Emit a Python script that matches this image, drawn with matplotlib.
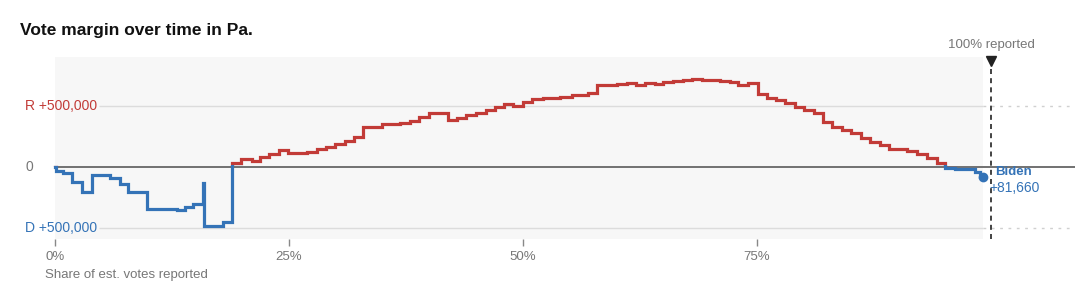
import matplotlib
matplotlib.use('Agg')
import matplotlib.pyplot as plt
from matplotlib.patches import Rectangle
import numpy as np

plt.rcParams['font.family'] = ['Liberation Sans', 'DejaVu Sans']

# share of est. votes reported (%) at which each reported margin starts
pct = [0.0, 0.1, 0.85, 1.78, 2.85, 3.92, 5.88, 6.94, 7.80, 9.86, 13.0, 13.92, 14.78,
       15.84, 15.90, 17.95, 18.96, 19.84, 21.01, 21.90, 22.90, 23.96, 24.93, 26.89,
       27.96, 28.95, 29.91, 30.98, 31.94, 32.94, 34.94, 36.86, 37.93, 38.94, 39.96,
       40.95, 42.02, 42.95, 43.96, 45.03, 46.05, 47.01, 47.97, 48.96, 50.0, 51.01,
       52.17, 53.95, 55.20, 56.98, 57.94, 60.01, 61.08, 62.07, 63.03, 64.10, 64.99,
       66.06, 67.13, 68.02, 69.09, 71.05, 72.12, 73.0, 74.07, 75.14, 76.04, 76.98,
       77.99, 79.06, 80.02, 81.09, 82.05, 83.01, 84.08, 85.04, 86.06, 87.07, 88.09,
       89.10, 91.0, 92.06, 93.11, 94.23, 95.09, 96.15, 98.29, 98.8]
# margin (positive = Trump/R lead, negative = Biden/D lead)
margin = [0, -30000, -52000, -120000, -202000, -66000, -93000, -139000, -207000,
          -347000, -352000, -330000, -306000, -134000, -480000, -448000, 33000, 63000,
          49000, 80000, 107000, 139000, 117000, 125000, 145000, 166000, 189000, 216000,
          243000, 330000, 352000, 361000, 380000, 412000, 445000, 440000, 383000,
          399000, 426000, 445000, 467000, 494000, 516000, 500000, 533000, 557000,
          568000, 576000, 590000, 604000, 672000, 680000, 686000, 672000, 691000,
          680000, 694000, 705000, 713000, 721000, 713000, 707000, 699000, 672000,
          686000, 598000, 563000, 549000, 522000, 494000, 467000, 440000, 371000,
          330000, 303000, 276000, 235000, 207000, 180000, 145000, 134000, 107000,
          71000, 30000, -6000, -20000, -39000, -81660]
last_pct = 99.15

xticks = [0, 25, 50, 75]
xticklabels = ['0%', '25%', '50%', '75%']
gridvals = [500000, -500000]
gridlabels = ['R +500,000', 'D +500,000']

red = '#c23b37'
blue = '#3473b7'
grey_txt = '#777777'

fig = plt.figure(figsize=(10.8, 3.0), dpi=100)
ax = fig.add_axes([55/1080, 61/300, 1020/1080, 182/300])
ax.set_xlim(0, 108.97)
ax.set_ylim(-590000, 902000)
ax.set_facecolor('none')
for s in ax.spines.values():
    s.set_visible(False)

ax.axvspan(0, last_pct, color='#f7f7f7', zorder=0, lw=0)

# gridlines
for v, lab, c in zip(gridvals, gridlabels, [red, blue]):
    ax.hlines(v, 4.7, last_pct, color='#dcdcdc', lw=1, zorder=1)
    ax.hlines(v, last_pct, 108.97, color='#d0d0d0', lw=1, linestyles=(0, (2, 4)), zorder=1)
    ax.text(-3.2, v, lab, color=c, fontsize=10, ha='left', va='center', clip_on=False)
ax.text(-3.2, 0, '0', color=grey_txt, fontsize=10, ha='left', va='center', clip_on=False)
ax.axhline(0, color='#666666', lw=1.3, zorder=2)

x = pct + [last_pct]
y = margin + [margin[-1]]
r_line, = ax.step(x, y, where='post', color=red, lw=2.3, zorder=3, solid_joinstyle='miter')
b_line, = ax.step(x, y, where='post', color=blue, lw=2.3, zorder=4, solid_joinstyle='miter')
r_line.set_clip_path(Rectangle((-10, 0), 200, 2e6, transform=ax.transData))
b_line.set_clip_path(Rectangle((-10, -2e6), 200, 2e6 + 15000, transform=ax.transData))
ax.plot([last_pct], [margin[-1]], 'o', color=blue, ms=6, zorder=5)

# 100% reported marker
ax.vlines(100, -590000, 860000, color='#222222', lw=1.2, linestyles=(0, (3, 2.5)), zorder=2, clip_on=False)
ax.plot([100], [872000], marker='v', color='#222222', ms=7, clip_on=False, zorder=5)
ax.text(100, 1000000, '100% reported', color=grey_txt, fontsize=9.5, ha='center', va='center', clip_on=False)

ax.text(100.4, -42000, 'Biden', color=blue, fontsize=9.5, fontweight='bold', ha='left', va='center')
ax.text(99.8, -172000, '+{:,}'.format(int(-margin[-1])), color=blue, fontsize=10, ha='left', va='center')

ax.set_yticks([])
ax.set_xticks(xticks)
ax.set_xticklabels(xticklabels)
ax.tick_params(axis='x', length=5, width=1, color='#888888', labelcolor=grey_txt, labelsize=9.5, pad=4)

fig.text(20/1080, 1 - 30/300, 'Vote margin over time in Pa.', fontsize=12.5, fontweight='bold',
         color='#111111', ha='left', va='center')
fig.text(45/1080, 1 - 275/300, 'Share of est. votes reported', fontsize=9.5, color=grey_txt,
         ha='left', va='center')

fig.savefig('out.png', dpi=100)
